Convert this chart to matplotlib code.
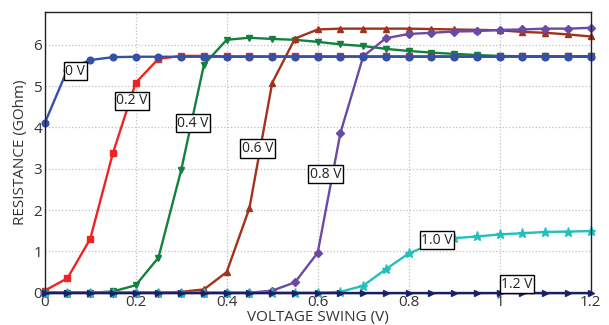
import matplotlib

matplotlib.use("Agg")
import matplotlib.pyplot as plt
import numpy as np

plt.rcParams["font.family"] = ["Open Sans", "DejaVu Sans"]

# voltage swing (V), sampled every 0.05
swing = np.round(np.arange(0, 1.2001, 0.05), 2)

r_0v = [4.10, 5.40, 5.63, 5.70, 5.71, 5.71, 5.71, 5.71, 5.71, 5.71, 5.71, 5.71, 5.71,
        5.71, 5.71, 5.71, 5.71, 5.71, 5.71, 5.71, 5.71, 5.71, 5.71, 5.71, 5.71]
r_02v = [0.05, 0.35, 1.30, 3.38, 5.08, 5.66, 5.73, 5.73, 5.72, 5.72, 5.72, 5.72, 5.72,
         5.72, 5.72, 5.72, 5.72, 5.72, 5.72, 5.72, 5.72, 5.72, 5.72, 5.72, 5.72]
r_04v = [0.0, 0.0, 0.0, 0.03, 0.18, 0.85, 2.97, 5.52, 6.12, 6.17, 6.14, 6.12, 6.07,
         6.01, 5.97, 5.90, 5.85, 5.81, 5.78, 5.75, 5.73, 5.72, 5.72, 5.72, 5.72]
r_06v = [0.0, 0.0, 0.0, 0.0, 0.0, 0.0, 0.02, 0.08, 0.50, 2.05, 5.08, 6.15, 6.37,
         6.39, 6.39, 6.39, 6.39, 6.38, 6.37, 6.36, 6.35, 6.31, 6.29, 6.25, 6.20]
r_08v = [0.0, 0.0, 0.0, 0.0, 0.0, 0.0, 0.0, 0.0, 0.0, 0.0, 0.05, 0.25, 0.97,
         3.87, 5.72, 6.16, 6.26, 6.29, 6.32, 6.33, 6.36, 6.37, 6.39, 6.39, 6.41]
r_10v = [0.0, 0.0, 0.0, 0.0, 0.0, 0.0, 0.0, 0.0, 0.0, 0.0, 0.0, 0.0, 0.0,
         0.02, 0.17, 0.57, 0.95, 1.18, 1.32, 1.36, 1.41, 1.44, 1.47, 1.48, 1.49]
r_12v = [0.0] * 25

series = [
    ("0.2 V", r_02v, "#ee2424", "s", (0.192, 4.64)),
    ("0.4 V", r_04v, "#13803e", "v", (0.326, 4.10)),
    ("0.6 V", r_06v, "#a2321c", "^", (0.467, 3.49)),
    ("0.8 V", r_08v, "#6b4aa6", "D", (0.617, 2.87)),
    ("1.0 V", r_10v, "#22bfbf", "*", (0.862, 1.27)),
    ("1.2 V", r_12v, "#1c2478", ">", (1.038, 0.21)),
    ("0 V", r_0v, "#3550a8", "o", (0.067, 5.36)),
]

fig = plt.figure(figsize=(6.09, 3.25), dpi=100)
ax = fig.add_axes([0.0734, 0.0994, 0.8966, 0.8646])

for name, vals, color, marker, (lx, ly) in series:
    ms = 6.5 if marker == "*" else 4.8
    if marker == "D":
        ms = 4
    ax.plot(swing, vals, color=color, marker=marker, markersize=ms, linewidth=1.7,
            markeredgecolor=color, clip_on=False)
    ax.text(lx, ly, name, ha="center", va="center", fontsize=10, color="#222",
            bbox=dict(boxstyle="square,pad=0.12", facecolor="white",
                      edgecolor="black", linewidth=1.0), zorder=5)

ax.set_xlim(0, 1.2)
ax.set_ylim(0, 6.8)
ax.set_xticks([0, 0.2, 0.4, 0.6, 0.8, 1.0, 1.2])
ax.set_xticklabels(["0", "0.2", "0.4", "0.6", "0.8", "1", "1.2"])
ax.set_yticks(range(7))
ax.grid(True, linestyle=":", color="#c0c0c0", linewidth=0.9)
ax.tick_params(length=0, labelsize=11, labelcolor="#333", pad=2)
for spine in ax.spines.values():
    spine.set_color("#222")
    spine.set_linewidth(1.0)

ax.set_xlabel("VOLTAGE SWING (V)", fontsize=11, color="#333", labelpad=0)
ax.set_ylabel("RESISTANCE (GOhm)", fontsize=11, color="#333", labelpad=4)

fig.savefig("out.png", dpi=100)
